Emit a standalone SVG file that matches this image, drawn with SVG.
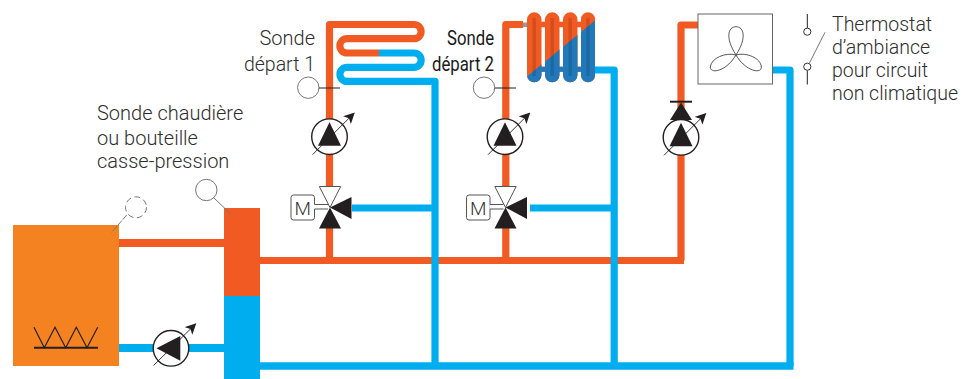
<svg xmlns="http://www.w3.org/2000/svg" width="970" height="379" viewBox="0 0 970 379">
<style>
.r{fill:none;stroke:#F15A22;stroke-width:7.2;stroke-linejoin:round}
.b{fill:none;stroke:#00AEEF;stroke-width:7.2;stroke-linejoin:round}
.t{font-family:"Roboto","Liberation Sans",Arial,sans-serif;font-weight:300;font-size:20px;fill:#2e2e2e}
.tr{font-size:19.500px}
.t2{font-family:"Roboto","Liberation Sans",Arial,sans-serif;font-weight:400;font-size:20.500px;fill:#1a1a1a}
.k{fill:#231F20}
.s{fill:#fff;stroke:#777;stroke-width:1}
.l{fill:none;stroke:#231F20;stroke-width:1}
.g{fill:none;stroke:#777;stroke-width:1}
.p{fill:#fff;stroke:#231F20;stroke-width:1.4}
.v{fill:#fff;stroke:#555;stroke-width:1}
</style>
<defs>
<marker id="ah" viewBox="0 0 10 10" refX="9" refY="5" markerWidth="11" markerHeight="11" markerUnits="userSpaceOnUse" orient="auto"><path d="M0 0L10 5L0 10L2.500 5Z" fill="#231F20"/></marker>
<g id="pumpbody"><circle class="p" r="17.800"/></g>
<g id="pump"><use href="#pumpbody"/><path class="k" d="M0-14.500L11.500 9H-11.500Z"/><path d="M-17 18L24.500-23.500" fill="none" stroke="#231F20" stroke-width=".9" marker-end="url(#ah)"/></g>
<g id="valve"><rect class="v" x="-39" y="-12.500" width="23.500" height="25" rx="2.500"/><rect x="-16" y="-3" width="16" height="4.500" fill="#fff"/><path stroke="#555" stroke-width="1" d="M-15.500-3H-2M-15.500 1.500H-2"/><path class="v" d="M-10.700-21H10.700L0 0Z"/><path class="k" d="M0 0L-11 21H11Z"/><path class="k" d="M0 0L21.500-10.500V11.500Z"/><text x="-27.200" y="7" text-anchor="middle" font-family="Roboto,Liberation Sans,Arial,sans-serif" font-weight="300" font-size="19" fill="#333">M</text></g>
<clipPath id="rad"><rect x="527" y="12.300" width="14.500" height="70" rx="7.200"/><rect x="545" y="12.300" width="14.500" height="70" rx="7.200"/><rect x="563" y="12.300" width="14.500" height="70" rx="7.200"/><rect x="581" y="12.300" width="14" height="70" rx="7"/><rect x="527" y="21.800" width="68" height="5.500"/><rect x="527" y="66.700" width="68" height="5"/></clipPath>
</defs>
<g id="connectors">
<path class="r" d="M119 243H224" style="stroke-width:8"/>
<path class="b" d="M119 348H224" style="stroke-width:8"/>
<path class="r" d="M260 260.500H684"/>
<path class="b" d="M260 366H793.500" style="stroke-width:7.500"/>
<path class="r" d="M329.500 260V228M329.500 187V24.500H414A7.100 7.100 0 0 1 414 38.700H347A7.150 7.150 0 0 0 347 53H379"/>
<path class="b" d="M379 53H414A7.150 7.150 0 0 1 414 67.300H347A7.050 7.050 0 0 0 347 81.400H435V366"/>
<path class="b" d="M352 208H435"/>
<path class="r" d="M505.800 260V228M505.800 187V24.500H523"/>
<path d="M523 22.500H527V27H523Z" fill="#999"/>
<path class="b" d="M595 70H614.200V366"/>
<path class="b" d="M530 208H614"/>
<path class="r" d="M681 260.500V25H698"/>
<path class="b" d="M772 70H790V366"/>
</g>
<g id="boiler"><rect x="13" y="225" width="106" height="141" fill="#F58220"/>
<path d="M34 327.300L44.300 347.700L55 327.300L65.700 347.700L76.300 327.300L87 347.700L97.700 327.300" fill="none" stroke="#231F20" stroke-width="1.200"/><path d="M34 347.700H98" stroke="#231F20" stroke-width="2"/></g>
<g id="bottle"><rect x="224" y="208" width="36" height="88" fill="#F15A22"/><rect x="224" y="296" width="36" height="83" fill="#00AEEF"/></g>
<g id="radiator">
<g clip-path="url(#rad)">
<rect x="527" y="12" width="68" height="71" fill="#F15A22"/>
<path d="M527 76.500L595 20.500V83H527Z" fill="#2179BB"/>
</g>
<path d="M534.200 18V76M552.200 18V76M570.200 18V76M588 18V76" stroke="#000" stroke-opacity=".13" stroke-width="3.500" fill="none"/>
</g>
<g id="fan"><rect x="698" y="14" width="74.500" height="70" fill="#fff" stroke="#666" stroke-width="1"/>
<path d="M736 55C725 38 728 26.700 736 26.700C744 26.700 747 38 736 55C726 52 711 58 710.300 67C710 74 726 72 736 55C746 72 762 74 761.300 67C761 58 746 52 736 55" fill="none" stroke="#444" stroke-width=".9"/></g>
<g id="switch"><path class="l" d="M807.300 14V28M807.300 70.500V84.500"/><circle class="s" style="stroke:#333" cx="807.300" cy="31.700" r="3.600"/><circle class="s" style="stroke:#333" cx="807.300" cy="66.700" r="3.600"/><path class="g" d="M825 32.300L809.300 63.300"/></g>
<g id="pump1"><use href="#pump" x="329.500" y="136.700"/></g>
<g id="pump2"><use href="#pump" x="505" y="136.700"/></g>
<g id="pump3"><use href="#pump" x="681" y="137.300"/><path class="k" d="M681 102.500L692 120H670Z"/><path d="M670 101.700H692" stroke="#231F20" stroke-width="2"/></g>
<g id="pump4"><use href="#pumpbody" x="171" y="348.300"/><path class="k" d="M156.500 348.300L180.300 336V360.700Z"/><path d="M153.500 365.500L195.500 324" fill="none" stroke="#231F20" stroke-width=".9" marker-end="url(#ah)"/></g>
<g id="valve1"><use href="#valve" x="330" y="207.500"/></g>
<g id="valve2"><use href="#valve" x="505.500" y="207.500"/></g>
<g id="sonde1"><circle class="s" cx="308.300" cy="87.700" r="10.700"/><path class="l" d="M319 88H340"/></g>
<g id="sonde2"><circle class="s" cx="484" cy="87.700" r="10.700"/><path class="l" d="M494.700 88H516"/></g>
<g id="sonde3"><circle class="g" cx="136" cy="207.300" r="10.500" stroke-dasharray="6 3.500"/><path class="g" d="M126.700 215L111.700 232.300" stroke-dasharray="6 1.500"/></g>
<g id="sonde4"><circle class="s" cx="206.300" cy="190" r="10.700"/><path class="g" d="M213.300 197.300L231 214.300"/></g>
<g id="labels">
<text class="t" x="315" y="45" text-anchor="end">Sonde</text>
<text class="t tr" x="315" y="71" text-anchor="end">départ 1</text>
<text class="t2" x="447" y="45" textLength="47" lengthAdjust="spacingAndGlyphs">Sonde</text>
<text class="t2" x="432" y="71" textLength="62" lengthAdjust="spacingAndGlyphs">départ 2</text>
<text class="t" x="97" y="119.500">Sonde chaudière</text>
<text class="t" x="97" y="144.500">ou bouteille</text>
<text class="t" x="97" y="168">casse-pression</text>
<text class="t tr" x="832" y="31">Thermostat</text>
<text class="t tr" x="832" y="54">d’ambiance</text>
<text class="t tr" x="832" y="77">pour circuit</text>
<text class="t tr" x="832" y="100">non climatique</text>
</g>
</svg>
